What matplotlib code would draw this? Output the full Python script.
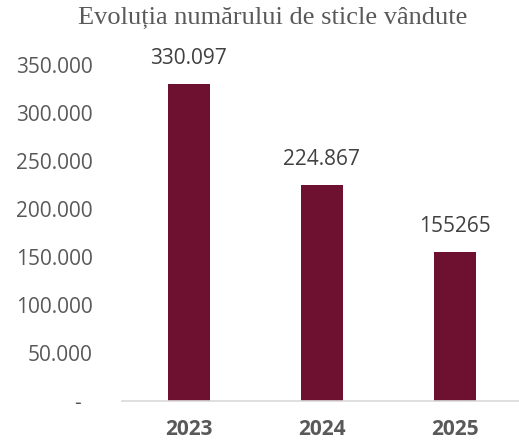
import matplotlib.pyplot as plt

years = ["2023", "2024", "2025"]
sold = [330097, 224867, 155265]
value_labels = ["330.097", "224.867", "155265"]
y_ticks = [0, 50000, 100000, 150000, 200000, 250000, 300000, 350000]
y_tick_labels = ["-  ", "50.000", "100.000", "150.000", "200.000", "250.000", "300.000", "350.000"]

grey = "#595959"
bar_color = "#6E1030"

fig = plt.figure(figsize=(5.19, 4.42), dpi=100)
ax = fig.add_axes([122 / 519, 41 / 442, 398 / 519, 336 / 442])

x = range(len(years))
bars = ax.bar(x, sold, width=0.315, color=bar_color, zorder=2)

for b, lab in zip(bars, value_labels):
    ax.text(b.get_x() + b.get_width() / 2, b.get_height() + 16000, lab,
            ha="center", va="bottom", fontsize=15, color="#404040",
            family="Open Sans", clip_on=False)

ax.set_xlim(-0.5, 2.49)
ax.set_ylim(0, 350000)
ax.set_yticks(y_ticks)
ax.set_yticklabels(y_tick_labels, fontsize=15, color=grey, family="Open Sans")
ax.set_xticks(list(x))
ax.set_xticklabels(years, fontsize=15, color=grey, family="Open Sans", fontweight="bold")
ax.tick_params(axis="both", length=0)
ax.tick_params(axis="y", pad=21)
ax.tick_params(axis="x", pad=13)

for s in ["top", "right", "left"]:
    ax.spines[s].set_visible(False)
ax.spines["bottom"].set_color("#D9D9D9")
ax.spines["bottom"].set_linewidth(1.2)

fig.text(0.5 + 13 / 519, 1 - 18 / 442, "Evoluția numărului de sticle vândute",
         ha="center", va="center", fontsize=19, color=grey, family="Liberation Serif")

fig.savefig("out.png", dpi=100)
